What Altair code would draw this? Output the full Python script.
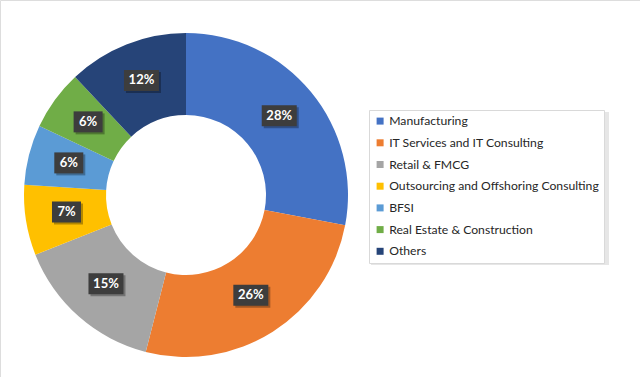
import altair as alt
import pandas as pd

categories = ["Manufacturing", "IT Services and IT Consulting", "Retail & FMCG",
              "Outsourcing and Offshoring Consulting", "BFSI",
              "Real Estate & Construction", "Others"]
values = [28, 26, 15, 7, 6, 6, 12]
colors = ["#4472C4", "#ED7D31", "#A5A5A5", "#FFC000", "#5B9BD5", "#70AD47", "#264478"]

df = pd.DataFrame({
    "category": categories,
    "value": values,
    "order": list(range(len(categories))),
    "label": [f"{v}%" for v in values],
})

CX, CY = 186, 195
R_OUT, R_IN = 162, 80
R_LAB = 121

base = alt.Chart(df)

color = alt.Color("category:N",
                  scale=alt.Scale(domain=categories, range=colors),
                  sort=categories,
                  legend=alt.Legend(title=None, orient="none", legendX=369, legendY=110,
                                    symbolType="square", symbolSize=49,
                                    labelFont="Lato", labelFontSize=12.2, labelColor="#262626",
                                    rowPadding=8.7, padding=5, labelOffset=3,
                                    fillColor="white", strokeColor="#d9d9d9",
                                    labelLimit=400))

arcs = base.mark_arc(innerRadius=R_IN, outerRadius=R_OUT).encode(
    theta=alt.Theta("value:Q", stack=True),
    order=alt.Order("order:Q"),
    color=color,
    x=alt.value(CX), y=alt.value(CY),
)

pos = base.transform_joinaggregate(total="sum(value)").transform_window(
    cum="sum(value)", sort=[alt.SortField("order")], frame=[None, 0]
).transform_calculate(
    ang="2*PI*(datum.cum - datum.value/2)/datum.total",
).transform_calculate(
    lx=f"{CX} + {R_LAB}*sin(datum.ang)",
    ly=f"{CY} - 2 - {R_LAB}*cos(datum.ang)",
    w="6*length(datum.label) + 17",
).transform_calculate(
    x1="datum.lx - datum.w/2", x2="datum.lx + datum.w/2",
    y1="datum.ly - 10.5", y2="datum.ly + 10.5",
    sx1="datum.lx - datum.w/2 + 2", sx2="datum.lx + datum.w/2 + 2",
    sy1="datum.ly - 10.5 + 2", sy2="datum.ly + 10.5 + 2",
)

shadow = pos.mark_rect(color="black", opacity=0.3).encode(
    x=alt.X("sx1:Q", scale=None), x2="sx2:Q",
    y=alt.Y("sy1:Q", scale=None), y2="sy2:Q",
)
boxes = pos.mark_rect(color="#3d3d3d").encode(
    x=alt.X("x1:Q", scale=None), x2="x2:Q",
    y=alt.Y("y1:Q", scale=None), y2="y2:Q",
)
texts = pos.mark_text(font="Lato", fontSize=13, fontWeight="bold", color="white",
                      align="center", baseline="middle").encode(
    x=alt.X("lx:Q", scale=None), y=alt.Y("ly:Q", scale=None), text="label:N",
)

legend_shadow = alt.Chart(pd.DataFrame({"a": [0]})).mark_rect(color="#e6e6e6").encode(
    x=alt.value(371), x2=alt.value(609), y=alt.value(112), y2=alt.value(265)
)

chart = alt.layer(legend_shadow, arcs, shadow, boxes, texts).properties(
    width=640, height=377, padding=0, autosize=alt.AutoSizeParams(type="none")
).configure_view(stroke=None).configure(background="white")

chart.save("out.html", embed_options={"renderer": "svg", "actions": False})
